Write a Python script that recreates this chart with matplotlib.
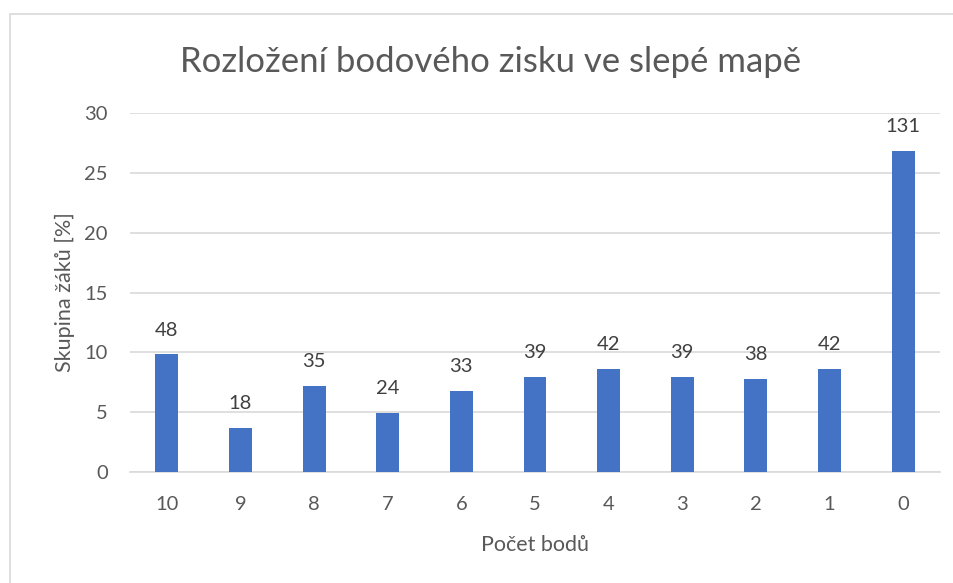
import matplotlib.pyplot as plt
import matplotlib.patches as patches

plt.rcParams['font.family'] = ['Lato', 'DejaVu Sans']

# data
categories = ['10', '9', '8', '7', '6', '5', '4', '3', '2', '1', '0']
percent = [9.82, 3.68, 7.16, 4.91, 6.75, 7.98, 8.59, 7.98, 7.77, 8.59, 26.79]
counts = [48, 18, 35, 24, 33, 39, 42, 39, 38, 42, 131]

txt = '#595959'
grid = '#d9d9d9'
blue = '#4472C4'

fig = plt.figure(figsize=(9.54, 5.83), dpi=100)
ax = fig.add_axes([130 / 954, 1 - 472 / 583, 810 / 954, 359 / 583])

# chart area frame
fig.patches.append(patches.Rectangle((10 / 954, -0.1), 1.2, 1 - 14 / 583 + 0.1,
                                     transform=fig.transFigure, fill=False,
                                     edgecolor=grid, lw=1.2))

x = range(len(categories))
ax.bar(x, percent, width=0.31, color=blue, zorder=3)
for i, (p, c) in enumerate(zip(percent, counts)):
    ax.annotate(str(c), (i, p), xytext=(0, 11.5), textcoords='offset points',
                ha='center', va='bottom', fontsize=14.5, color='#404040')

ax.set_xlim(-0.5, len(categories) - 0.5)
ax.set_ylim(0, 30)
ax.set_yticks(range(0, 31, 5))
ax.set_xticks(list(x))
ax.set_xticklabels(categories)
ax.yaxis.grid(True, color=grid, lw=1.2, zorder=0)
ax.tick_params(length=0, labelsize=14.5, colors=txt)
ax.tick_params(axis='y', pad=16)
ax.tick_params(axis='x', pad=17)
for s in ['top', 'right', 'left']:
    ax.spines[s].set_visible(False)
ax.spines['bottom'].set_color(grid)
ax.spines['bottom'].set_linewidth(1.2)

fig.text(491 / 954, 1 - 62 / 583, 'Rozložení bodového zisku ve slepé mapě',
         ha='center', va='center', fontsize=25, color=txt)
ax.set_ylabel('Skupina žáků [%]', fontsize=15.5, color=txt, labelpad=7)
ax.set_xlabel('Počet bodů', fontsize=15.5, color=txt, labelpad=16)

fig.savefig('out.png', dpi=100)
